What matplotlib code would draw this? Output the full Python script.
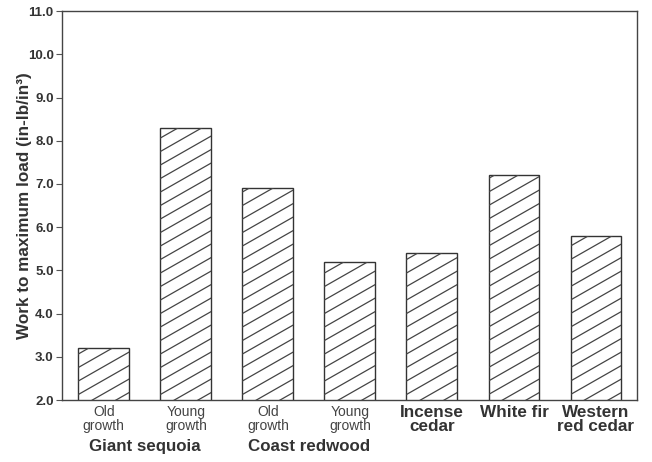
import matplotlib
matplotlib.use("Agg")
import matplotlib.pyplot as plt
import matplotlib.transforms as mtransforms
import numpy as np

plt.rcParams['font.family'] = ['Liberation Sans', 'DejaVu Sans']

# data
labels = ["Old\ngrowth", "Young\ngrowth", "Old\ngrowth", "Young\ngrowth",
          "Incense\ncedar", "White fir", "Western\nred cedar"]
bold_label = [False, False, False, False, True, True, True]
values = [3.2, 8.3, 6.9, 5.2, 5.4, 7.2, 5.8]
groups = ["Giant sequoia", "Coast redwood"]
group_pos = [0.5, 2.5]
yticks = [2.0, 3.0, 4.0, 5.0, 6.0, 7.0, 8.0, 9.0, 10.0, 11.0]

fig = plt.figure(figsize=(6.52, 4.62), dpi=100)
ax = fig.add_axes([0.095, 0.134, 0.882, 0.842])

x = list(range(len(values)))
bars = ax.bar(x, [v - 2.0 for v in values], bottom=2.0, width=0.62,
              color='white', edgecolor='#333333', linewidth=1.0, zorder=3)

ax.set_xlim(-0.51, 6.5)
ax.set_ylim(2.0, 11.0)

# shallow diagonal hatching, clipped to each bar (pixel space)
slope = 0.57
step = 13.5
ident = mtransforms.IdentityTransform()
for b in bars:
    ext = b.get_window_extent()
    x0, x1, y0, y1 = ext.x0, ext.x1, ext.y0, ext.y1
    c = np.floor((y0 - slope * (x1 - x0)) / step) * step
    while c < y1:
        ln, = ax.plot([x0, x1], [c, c + slope * (x1 - x0)], transform=ident,
                      color='#444444', lw=0.9, zorder=4)
        ln.set_clip_path(b)
        c += step

ax.set_yticks(yticks)
ax.set_yticklabels([f"{t:.1f}" for t in yticks], fontsize=9.5, fontweight='bold',
                   color='#333333')
ax.tick_params(axis='y', direction='out', length=4, width=0.8, color='#555555', pad=2)
ax.set_xticks([])
for s in ax.spines.values():
    s.set_color('#444444')
    s.set_linewidth(1.0)

ax.set_ylabel("Work to maximum load (in-lb/in³)", fontsize=12.3, fontweight='bold',
              color='#333333')
ax.yaxis.set_label_coords(-0.052, 0.5)

trans = mtransforms.blended_transform_factory(ax.transData, ax.transAxes)
for xi, lab, b in zip(x, labels, bold_label):
    if b:
        ax.text(xi, -0.012, lab, transform=trans, ha='center', va='top',
                fontsize=12.3, fontweight='bold', color='#333333', linespacing=0.95)
    else:
        ax.text(xi, -0.012, lab, transform=trans, ha='center', va='top',
                fontsize=10, color='#444444', linespacing=1.0)
for gx, g in zip(group_pos, groups):
    ax.text(gx, -0.1, g, transform=trans, ha='center', va='top',
            fontsize=12.2, fontweight='bold', color='#333333')

fig.savefig("out.png", dpi=100)
